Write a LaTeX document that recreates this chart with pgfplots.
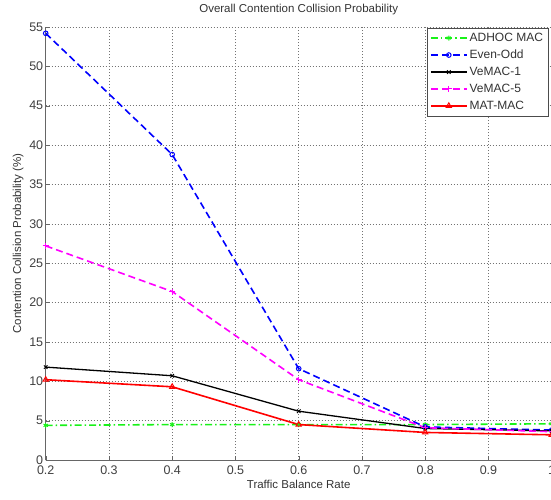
\documentclass[border=0pt]{standalone}
\usepackage{pgfplots}
\pgfplotsset{compat=1.18}
\usepackage{fontspec}
\setmainfont{Liberation Sans}
\definecolor{mgreen}{rgb}{0.1,0.95,0.1}
\definecolor{mblue}{rgb}{0,0,1}
\definecolor{mmagenta}{rgb}{1,0,1}
\definecolor{mred}{rgb}{1,0,0}
\begin{document}
\begin{tikzpicture}
\begin{axis}[
  scale only axis,
  width=506pt, height=433pt,
  xmin=0.2, xmax=1.0, ymin=0, ymax=55,
  xtick={0.2,0.3,...,1.0},
  xticklabels={0.2,0.3,0.4,0.5,0.6,0.7,0.8,0.9,1},
  ytick={0,5,...,55},
  /pgf/number format/assume math mode=true,
  ticklabel style={font=\fontsize{12.5}{14}\selectfont, text=black!75},
  xticklabel style={yshift=-2pt},
  yticklabel style={xshift=1pt},
  label style={font=\fontsize{11.5}{13}\selectfont, text=black!80},
  title style={font=\fontsize{11.5}{13}\selectfont, text=black!80, yshift=3pt},
  title={Overall Contention Collision Probability},
  xlabel={Traffic Balance Rate},
  ylabel={Contention Collision Probability (\%)},
  xlabel style={yshift=1pt},
  ylabel style={yshift=-1pt},
  grid=major,
  grid style={black!55, line width=0.6pt, dash pattern=on 0.6pt off 2.4pt},
  axis line style={black!60, line width=0.6pt},
  tick style={black!60},
  tick align=inside,
  axis x line*=bottom, axis y line*=left,
  legend style={at={(0.993,0.998)}, anchor=north east, font=\fontsize{12}{14}\selectfont,
    draw=black!70, row sep=3pt, inner sep=3pt, text=black!80},
  legend cell align=left,
  legend image code/.code={\draw[#1] (0pt,0pt) -- (18pt,0pt) -- (36pt,0pt); \path[#1,solid] plot coordinates {(18pt,0pt)};},
  every axis plot/.append style={line width=1.6pt},
]
\addplot[color=mgreen, dash pattern=on 7pt off 3pt on 1.5pt off 3pt, mark=asterisk, mark size=2.5pt, mark options={solid, line width=1pt}] coordinates {(0.2,4.4) (0.4,4.5) (0.6,4.5) (0.8,4.5) (1.0,4.6)};
\addlegendentry{ADHOC MAC}
\addplot[color=mblue, dash pattern=on 7pt off 4pt, mark=o, mark size=2.3pt, mark options={solid, line width=1pt}] coordinates {(0.2,54.2) (0.4,38.8) (0.6,11.6) (0.8,4.2) (1.0,3.8)};
\addlegendentry{Even-Odd}
\addplot[color=black, line width=1.3pt, mark=x, mark size=2.5pt, mark options={solid, line width=0.9pt}] coordinates {(0.2,11.8) (0.4,10.7) (0.6,6.2) (0.8,4.0) (1.0,3.7)};
\addlegendentry{VeMAC-1}
\addplot[color=mmagenta, dash pattern=on 7pt off 4pt, mark=+, mark size=3pt, mark options={solid, line width=1pt}] coordinates {(0.2,27.2) (0.4,21.4) (0.6,10.2) (0.8,4.1) (1.0,3.6)};
\addlegendentry{VeMAC-5}
\addplot[color=mred, mark=triangle, mark size=3pt, mark options={solid, line width=1pt}] coordinates {(0.2,10.2) (0.4,9.3) (0.6,4.5) (0.8,3.5) (1.0,3.2)};
\addlegendentry{MAT-MAC}
\end{axis}
\pgfresetboundingbox
\path (current axis.south west) ++(-45.7pt,-39pt) rectangle ++(551pt,499pt);
\end{tikzpicture}
\end{document}
